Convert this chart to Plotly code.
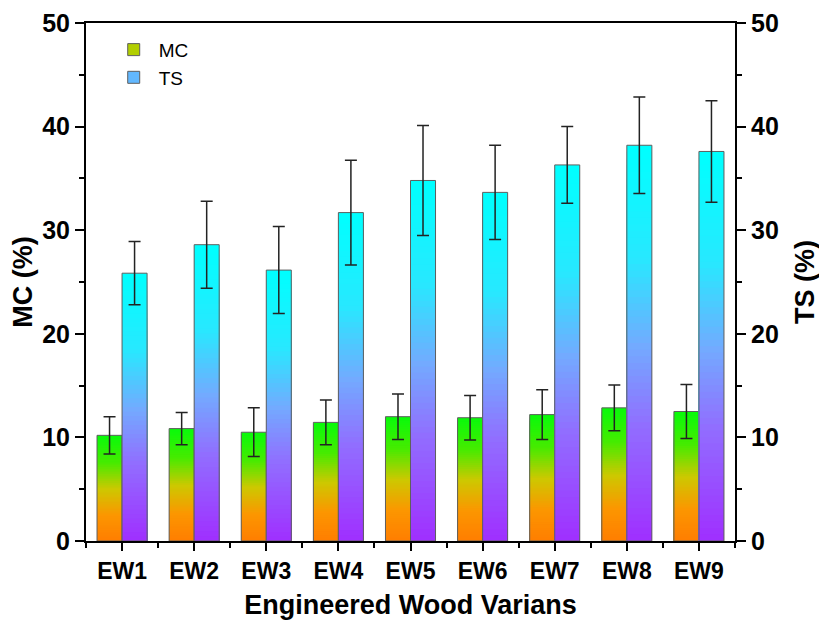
import plotly.graph_objects as go
from plotly.colors import sample_colorscale

categories = ["EW1", "EW2", "EW3", "EW4", "EW5", "EW6", "EW7", "EW8", "EW9"]
mc_values = [10.2, 10.85, 10.5, 11.45, 12.0, 11.9, 12.2, 12.85, 12.5]
mc_errors = [1.8, 1.55, 2.35, 2.15, 2.2, 2.15, 2.4, 2.2, 2.6]
ts_values = [25.85, 28.6, 26.15, 31.7, 34.8, 33.65, 36.3, 38.2, 37.6]
ts_errors = [3.05, 4.2, 4.2, 5.05, 5.3, 4.55, 3.7, 4.65, 4.9]
y_ticks = [0, 10, 20, 30, 40, 50]

mc_scale = [[0.0, "rgb(255,125,0)"], [0.25, "rgb(252,150,0)"], [0.5, "rgb(205,200,0)"],
            [0.75, "rgb(70,235,0)"], [1.0, "rgb(10,250,10)"]]
ts_scale = [[0.0, "rgb(160,45,255)"], [0.3, "rgb(145,110,255)"], [0.5, "rgb(115,170,255)"],
            [0.72, "rgb(40,232,255)"], [1.0, "rgb(0,255,255)"]]

x = list(range(len(categories)))
N = 60

fig = go.Figure()

def add_series(name, values, errors, scale, yaxis):
    # nested bars from 0: tallest first (top colour), shorter ones drawn over it
    fracs = [(N - i) / N for i in range(N)]
    cols = sample_colorscale(scale, fracs)
    for i in range(N):
        fig.add_trace(go.Bar(
            x=x, y=[v * fracs[i] for v in values],
            marker=dict(color=cols[i], line=dict(width=0)),
            offsetgroup=name, yaxis=yaxis, name=name,
            showlegend=False, hoverinfo="skip"))
    fig.add_trace(go.Bar(
        x=x, y=values, offsetgroup=name, yaxis=yaxis, name=name,
        marker=dict(color="rgba(0,0,0,0)", line=dict(color="rgb(95,95,95)", width=1)),
        error_y=dict(type="data", array=errors, color="rgb(35,35,35)", thickness=1.5, width=6),
        showlegend=False))
    fig.add_trace(go.Bar(
        x=x, y=[None] * len(x), offsetgroup=name, yaxis=yaxis, name=name,
        marker=dict(color=cols[int(N * 0.45)], line=dict(color="rgb(95,95,95)", width=1)),
        showlegend=True))

add_series("MC", mc_values, mc_errors, mc_scale, "y")
add_series("TS", ts_values, ts_errors, ts_scale, "y2")

FAM = "Liberation Sans, Arial, sans-serif"
tickfont = dict(family=FAM, size=25, color="black", weight="bold")
titlefont = dict(family=FAM, size=27, color="black", weight="bold")

yaxis_common = dict(range=[0, 50], tickvals=y_ticks, ticks="outside", ticklen=9, tickwidth=2,
                    showline=True, linewidth=2, linecolor="black", showgrid=False, zeroline=False,
                    tickfont=tickfont, tickcolor="black", automargin=False,
                    ticklabeloverflow="allow",
                    minor=dict(dtick=5, tick0=0, ticks="outside", ticklen=5, tickwidth=2,
                               tickcolor="black", showgrid=False))

fig.update_layout(
    width=827, height=633,
    margin=dict(l=78, r=100, t=15, b=100, autoexpand=False),
    paper_bgcolor="white", plot_bgcolor="white",
    barmode="group", bargap=0.306, bargroupgap=0,
    xaxis=dict(range=[-0.5, 8.5], tickvals=x, ticktext=categories, ticks="outside",
               ticklen=8, tickwidth=2, tickcolor="black",
               showline=True, linewidth=2, linecolor="black", mirror=True,
               showgrid=False, zeroline=False, automargin=False,
               tickfont=dict(family=FAM, size=23, color="black", weight="bold"),
               minor=dict(tick0=0.5, dtick=1, ticks="outside", ticklen=5, tickwidth=2,
                          tickcolor="black", showgrid=False),
               title=dict(text="Engineered Wood Varians", font=titlefont, standoff=13)),
    yaxis=dict(**yaxis_common, title=dict(text="MC (%)", font=titlefont, standoff=9)),
    yaxis2=dict(**yaxis_common, overlaying="y", side="right",
                title=dict(text="TS (%)", font=titlefont, standoff=17)),
    legend=dict(x=0.035, y=0.985, xanchor="left", yanchor="top",
                bgcolor="rgba(0,0,0,0)", borderwidth=0,
                font=dict(family=FAM, size=19, color="black"),
                tracegroupgap=2, itemwidth=40),
    showlegend=True,
)

fig.write_html("out.html")
